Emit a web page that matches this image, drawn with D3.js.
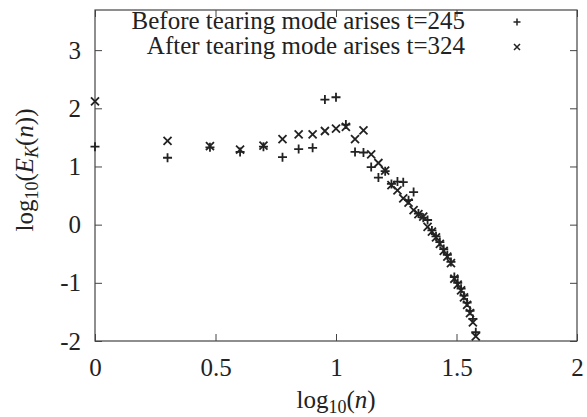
<!DOCTYPE html>
<html>
<head>
<meta charset="utf-8">
<script src="https://cdn.jsdelivr.net/npm/d3@7"></script>
<style>
  html, body { margin: 0; padding: 0; background: #fff; }
  svg text { font-family: "Liberation Serif", "Times New Roman", serif; fill: #222; }
</style>
</head>
<body>
<svg id="chart" width="587" height="417"></svg>
<script>
// log10(n) for n = 1..38
const logN = [0, 0.301, 0.477, 0.602, 0.699, 0.778, 0.845, 0.903, 0.954, 1.0,
  1.041, 1.079, 1.114, 1.146, 1.176, 1.204, 1.230, 1.255, 1.279, 1.301,
  1.322, 1.342, 1.362, 1.380, 1.398, 1.415, 1.431, 1.447, 1.462, 1.477,
  1.491, 1.505, 1.519, 1.531, 1.544, 1.556, 1.568, 1.580];

// Before tearing mode arises t=245  (+)
const beforeVals = [1.34, 1.15, 1.33, 1.25, 1.34, 1.16, 1.30, 1.32, 2.15, 2.19,
  1.72, 1.25, 1.24, 0.99, 0.81, 0.92, 0.70, 0.74, 0.73, 0.42,
  0.56, 0.19, 0.12, 0.08, -0.10, -0.20, -0.30, -0.42, -0.52, -0.64,
  -0.90, -1.00, -1.10, -1.22, -1.34, -1.48, -1.62, -1.85];

// After tearing mode arises t=324  (x)
const afterVals = [2.12, 1.44, 1.35, 1.29, 1.36, 1.47, 1.55, 1.55, 1.61, 1.65,
  1.68, 1.47, 1.62, 1.21, 1.06, 0.93, 0.68, 0.59, 0.45, 0.38,
  0.25, 0.18, 0.14, -0.04, -0.12, -0.22, -0.33, -0.45, -0.55, -0.66,
  -0.93, -1.03, -1.13, -1.25, -1.38, -1.52, -1.68, -1.92];

const xTicks = [0, 0.5, 1, 1.5, 2];
const yTicks = [-2, -1, 0, 1, 2, 3];
const legendLabels = ["Before tearing mode arises t=245", "After tearing mode arises t=324"];

const svg = d3.select("#chart");
const L = 95, R = 577, T = 10, B = 341;
const x = d3.scaleLinear().domain([0, 2]).range([L, R]);
const y = d3.scaleLinear().domain([-2, 3.69]).range([B, T]);
const ink = "#222";
const fs = 25;

// ticks (inward) on all four sides
const tl = 7;
const axB = d3.axisBottom(x).tickValues(xTicks).tickSize(-tl).tickFormat(d3.format("")).tickPadding(17);
const axT = d3.axisTop(x).tickValues(xTicks).tickSize(-tl).tickFormat("");
const axL = d3.axisLeft(y).tickValues(yTicks).tickSize(-tl).tickFormat(d3.format("")).tickPadding(14);
const axR = d3.axisRight(y).tickValues(yTicks).tickSize(-tl).tickFormat("");

function style(g) {
  g.select(".domain").remove();
  g.selectAll(".tick line").attr("stroke", "#444").attr("stroke-width", 1);
  g.selectAll(".tick text").attr("font-size", fs).attr("fill", ink)
    .style("font-family", '"Liberation Serif", serif');
}
svg.append("g").attr("transform", `translate(0,${B})`).call(axB).call(style);
svg.append("g").attr("transform", `translate(0,${T})`).call(axT).call(style);
svg.append("g").attr("transform", `translate(${L},0)`).call(axL).call(style)
  .selectAll(".tick text").text(d => d < 0 ? "-" + Math.abs(d) : d);
svg.append("g").attr("transform", `translate(${R},0)`).call(axR).call(style);

// frame
svg.append("rect").attr("x", L).attr("y", T).attr("width", R - L).attr("height", B - T)
  .attr("fill", "none").attr("stroke", "#444").attr("stroke-width", 1.2);

const plusPath = "M-4.5,0H4.5M0,-4.5V4.5";
const crossPath = "M-4,-4L4,4M-4,4L4,-4";

const dataB = logN.map((v, i) => ({ x: v, y: beforeVals[i] }));
const dataA = logN.map((v, i) => ({ x: v, y: afterVals[i] }));

svg.append("g").selectAll("path").data(dataB).join("path")
  .attr("d", plusPath).attr("transform", d => `translate(${x(d.x)},${y(d.y)})`)
  .attr("stroke", ink).attr("stroke-width", 1.8).attr("fill", "none");
svg.append("g").selectAll("path").data(dataA).join("path")
  .attr("d", crossPath).attr("transform", d => `translate(${x(d.x)},${y(d.y)})`)
  .attr("stroke", ink).attr("stroke-width", 1.8).attr("fill", "none");

// legend
const leg = svg.append("g");
[plusPath, crossPath].forEach((p, i) => {
  leg.append("text").attr("x", 465).attr("y", 29 + i * 25).attr("text-anchor", "end")
    .attr("font-size", fs).text(legendLabels[i]);
  leg.append("path").attr("d", i === 0 ? "M-3.5,0H3.5M0,-3.5V3.5" : "M-3,-3L3,3M-3,3L3,-3")
    .attr("transform", `translate(517,${22 + i * 25})`)
    .attr("stroke", ink).attr("stroke-width", 1.5).attr("fill", "none");
});

// x label
const xl = svg.append("text").attr("x", 336).attr("y", 408).attr("text-anchor", "middle").attr("font-size", fs);
xl.append("tspan").text("log");
xl.append("tspan").attr("font-size", fs * 0.72).attr("dy", 5).text("10");
xl.append("tspan").attr("dy", -5).text("(");
xl.append("tspan").attr("font-style", "italic").text("n");
xl.append("tspan").text(")");

// y label
const yl = svg.append("text").attr("transform", `translate(33,170) rotate(-90)`)
  .attr("text-anchor", "middle").attr("font-size", fs);
yl.append("tspan").text("log");
yl.append("tspan").attr("font-size", fs * 0.72).attr("dy", 5).text("10");
yl.append("tspan").attr("dy", -5).text("(");
yl.append("tspan").attr("font-style", "italic").text("E");
yl.append("tspan").attr("font-size", fs * 0.72).attr("font-style", "italic").attr("dy", 5).text("K");
yl.append("tspan").attr("dy", -5).text("(");
yl.append("tspan").attr("font-style", "italic").text("n");
yl.append("tspan").text("))");
</script>
</body>
</html>
